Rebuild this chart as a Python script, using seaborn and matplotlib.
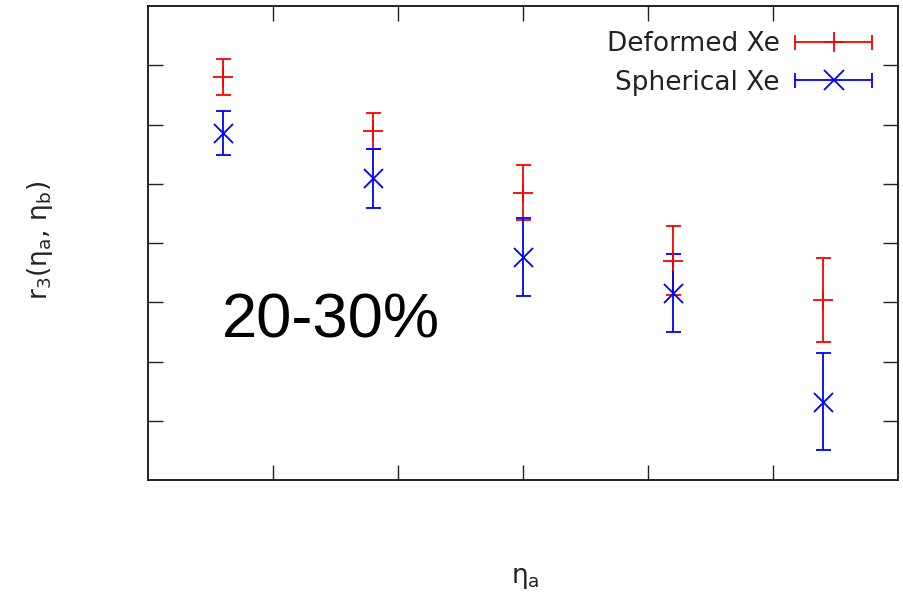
import numpy as np
import pandas as pd
import matplotlib
matplotlib.use("Agg")
import matplotlib.pyplot as plt
import seaborn as sns
from matplotlib.lines import Line2D
from matplotlib.legend_handler import HandlerBase

# ---- data (axis units hidden) ----
eta_a = [0.6, 1.8, 3.0, 4.2, 5.4]
deformed_val = [6.81, 5.89, 4.84, 3.70, 3.04]
deformed_lo = [6.50, 5.59, 4.38, 3.12, 2.33]
deformed_hi = [7.11, 6.20, 5.31, 4.29, 3.74]
spherical_val = [5.85, 5.09, 3.77, 3.16, 1.32]
spherical_lo = [5.49, 4.59, 3.11, 2.49, 0.50]
spherical_hi = [6.22, 5.59, 4.42, 3.81, 2.14]
series_names = ["Deformed Xe", "Spherical Xe"]
x_ticks = [1, 2, 3, 4, 5]
y_ticks = [1, 2, 3, 4, 5, 6, 7]

sns.set_theme(style="ticks")
plt.rcParams['font.family'] = ['DejaVu Sans']
plt.rcParams['mathtext.default'] = 'regular'

fig = plt.figure(figsize=(9.04, 5.95), dpi=100)
ax = fig.add_axes([148/904, 1 - 480/595, 750/904, 474/595])

df = pd.DataFrame({
    "eta": eta_a * 2,
    "r3": deformed_val + spherical_val,
    "lo": deformed_lo + spherical_lo,
    "hi": deformed_hi + spherical_hi,
    "series": [series_names[0]] * 5 + [series_names[1]] * 5,
})

colors = {"Deformed Xe": "#ff0000", "Spherical Xe": "#0000ff"}
markers = {"Deformed Xe": "+", "Spherical Xe": "x"}
msize = {"Deformed Xe": 14.4, "Spherical Xe": 13.7}

for name in series_names:
    sub = df[df.series == name]
    yerr = np.vstack([sub.r3 - sub.lo, sub.hi - sub.r3])
    ax.errorbar(sub.eta, sub.r3, yerr=yerr, fmt='none', ecolor=colors[name],
                elinewidth=1.3, capsize=5.4, capthick=1.3, zorder=2)
    sns.scatterplot(data=sub, x="eta", y="r3", marker=markers[name],
                    s=msize[name] ** 2, color=colors[name], linewidth=1.3,
                    ax=ax, legend=False, zorder=3)

ax.set_xlim(0, 6)
ax.set_ylim(0, 8)
ax.set_xticks(x_ticks)
ax.set_yticks(y_ticks)
ax.set_xticklabels([])
ax.set_yticklabels([])
ax.tick_params(direction='in', length=11, width=1.0, color='#222222',
               top=True, right=True, bottom=True, left=True)
for sp in ax.spines.values():
    sp.set_linewidth(1.3)
    sp.set_color('#111111')
ax.set_xlabel("")
ax.set_ylabel("")

fig.text(40/904, 1 - 240/595, "r$_3$(η$_a$, η$_b$)", rotation=90,
         ha='center', va='center', fontsize=19, color='#222222')
fig.text(525/904, 1 - 578/595, "η$_a$", ha='center', va='center',
         fontsize=19, color='#222222')

ax.text(222/904, 1 - 337/595, "20-30%", transform=fig.transFigure,
        ha='left', va='baseline', fontsize=45.5, family='Liberation Sans',
        color='black')


class ErrHandler(HandlerBase):
    def __init__(self, color, marker, ms):
        super().__init__()
        self.c, self.m, self.ms = color, marker, ms

    def create_artists(self, legend, orig_handle, xdescent, ydescent,
                       width, height, fontsize, trans):
        y = height / 2 - ydescent
        x0, x1 = -xdescent, -xdescent + width
        line = Line2D([x0, x1], [y, y], color=self.c, lw=1.3)
        caps = Line2D([x0, x1], [y, y], color=self.c, lw=0, marker='|',
                      ms=10.8, mew=1.3)
        mk = Line2D([(x0 + x1) / 2], [y], color=self.c, lw=0,
                    marker=self.m, ms=self.ms, mew=1.3)
        for a in (line, caps, mk):
            a.set_transform(trans)
        return [line, caps, mk]


h1 = Line2D([], [])
h2 = Line2D([], [])
leg = ax.legend([h1, h2], series_names,
                handler_map={h1: ErrHandler('#ff0000', '+', 14.4),
                             h2: ErrHandler('#0000ff', 'x', 13.7)},
                loc='upper right', bbox_to_anchor=(872/904, 1 - 31/595),
                bbox_transform=fig.transFigure, frameon=False,
                markerfirst=False, fontsize=19, handlelength=2.9,
                handletextpad=0.6, labelspacing=0.48, borderpad=0,
                borderaxespad=0)
for t in leg.get_texts():
    t.set_color('#222222')

fig.savefig("out.png", dpi=100, facecolor='white')
